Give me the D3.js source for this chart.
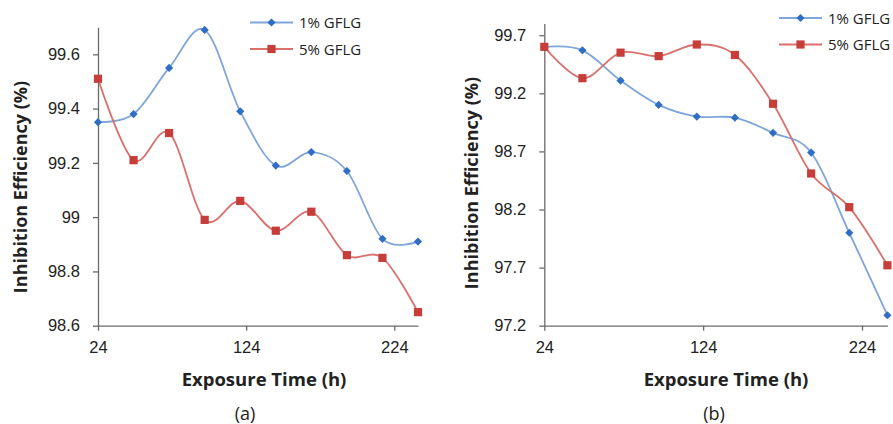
<!DOCTYPE html>
<html>
<head>
<meta charset="utf-8">
<script src="https://cdn.jsdelivr.net/npm/d3@7"></script>
<style>
  body { margin: 0; background: #fff; }
  svg { display: block; font-family: "Open Sans", Lato, sans-serif; }
  .axis path, .axis line { stroke: #6b6b6b; stroke-width: 1.3px; }
  .axis text { fill: #222; font-size: 16.5px; }
</style>
</head>
<body>
<svg id="chart" width="893" height="424"></svg>
<script>
// exposure times (h) and the ticks shown on the x axis
var hours = [24, 48, 72, 96, 120, 144, 168, 192, 216, 240];
var xTicks = [24, 124, 224];

// panel (a)
var a1 = [99.35, 99.38, 99.55, 99.69, 99.39, 99.19, 99.24, 99.17, 98.92, 98.91];
var a5 = [99.51, 99.21, 99.31, 98.99, 99.06, 98.95, 99.02, 98.86, 98.85, 98.65];
var aTicks = [98.6, 98.8, 99, 99.2, 99.4, 99.6];

// panel (b)
var b1 = [99.60, 99.57, 99.31, 99.10, 99.00, 98.99, 98.86, 98.69, 98.00, 97.29];
var b5 = [99.60, 99.33, 99.55, 99.52, 99.62, 99.53, 99.11, 98.51, 98.22, 97.72];
var bTicks = [97.2, 97.7, 98.2, 98.7, 99.2, 99.7];

var seriesNames = ["1% GFLG", "5% GFLG"];

var svg = d3.select("#chart");

var blue = { line: "#7ea6d8", mark: "#2f6ec4" };
var red = { line: "#d9706c", mark: "#c63d3a" };

var diamond = "M-2.9,-2.9H2.9V2.9H-2.9Z";
var square = "M-4.1,-4.1H4.1V4.1H-4.1Z";

var panel = function(o) {
  var x = d3.scaleLinear().domain([24, 240]).range([o.left, o.right]);
  var y = d3.scaleLinear().domain(o.ydom).range([325.7, o.top]);

  var g = svg.append("g");

  g.append("g")
    .attr("class", "axis")
    .attr("transform", "translate(0,325.7)")
    .call(d3.axisBottom(x).tickValues(xTicks).tickSize(5).tickSizeOuter(0).tickPadding(11).tickFormat(d3.format("d")));

  g.append("g")
    .attr("class", "axis")
    .attr("transform", "translate(" + o.left + ",0)")
    .call(d3.axisLeft(y).tickValues(o.ticks).tickSize(5).tickSizeOuter(0).tickPadding(13).tickFormat(function(d) { return String(d); }));

  var line = d3.line()
    .curve(d3.curveCardinal.tension(0))
    .x(function(d, i) { return x(hours[i]); })
    .y(function(d) { return y(d); });

  var draw = function(vals, col, shape) {
    g.append("path")
      .datum(vals)
      .attr("d", line)
      .style("fill", "none")
      .style("stroke", col.line)
      .style("stroke-width", "1.8px");
    g.selectAll(null)
      .data(vals)
      .enter().append("path")
      .attr("transform", function(d, i) { return "translate(" + x(hours[i]) + "," + y(d) + ")" + (shape === "d" ? " rotate(45)" : ""); })
      .attr("d", shape === "d" ? diamond : square)
      .attr("fill", col.mark);
  };
  draw(o.s1, blue, "d");
  draw(o.s5, red, "s");

  // legend
  [[blue, "d"], [red, "s"]].forEach(function(c, i) {
    var ly = o.legY + i * 26.5;
    g.append("line")
      .attr("x1", o.legX).attr("x2", o.legX + 43)
      .attr("y1", ly).attr("y2", ly)
      .style("stroke", c[0].line).style("stroke-width", "1.8px");
    g.append("path")
      .attr("transform", "translate(" + (o.legX + 21.5) + "," + ly + ")" + (c[1] === "d" ? " rotate(45)" : ""))
      .attr("d", c[1] === "d" ? diamond : square)
      .attr("fill", c[0].mark);
    g.append("text")
      .attr("x", o.legX + 49).attr("y", ly + 5.5)
      .style("font-size", "15px").style("fill", "#222")
      .text(seriesNames[i]);
  });

  g.append("text")
    .attr("transform", "translate(" + o.ytX + "," + o.ytY + ") rotate(-90)")
    .attr("text-anchor", "middle")
    .style("font-size", "18px").style("font-weight", "bold").style("fill", "#222")
    .text("Inhibition Efficiency (%)");

  g.append("text")
    .attr("x", o.xtX).attr("y", 386)
    .attr("text-anchor", "middle")
    .style("font-size", "18.5px").style("font-weight", "bold").style("fill", "#222")
    .text("Exposure Time (h)");

  g.append("text")
    .attr("x", o.capX).attr("y", 420)
    .attr("text-anchor", "middle")
    .style("font-size", "18px").style("fill", "#222")
    .text(o.cap);
};

panel({ left: 98, right: 418, top: 27.2, ydom: [98.6, 99.7], ticks: aTicks, s1: a1, s5: a5,
  legX: 250, legY: 22.5, ytX: 27, ytY: 187, xtX: 264, capX: 245, cap: "(a)" });
panel({ left: 544.3, right: 887.4, top: 23.6, ydom: [97.2, 99.8], ticks: bTicks, s1: b1, s5: b5,
  legX: 779, legY: 18, ytX: 478, ytY: 183, xtX: 726, capX: 714, cap: "(b)" });
</script>
</body>
</html>
